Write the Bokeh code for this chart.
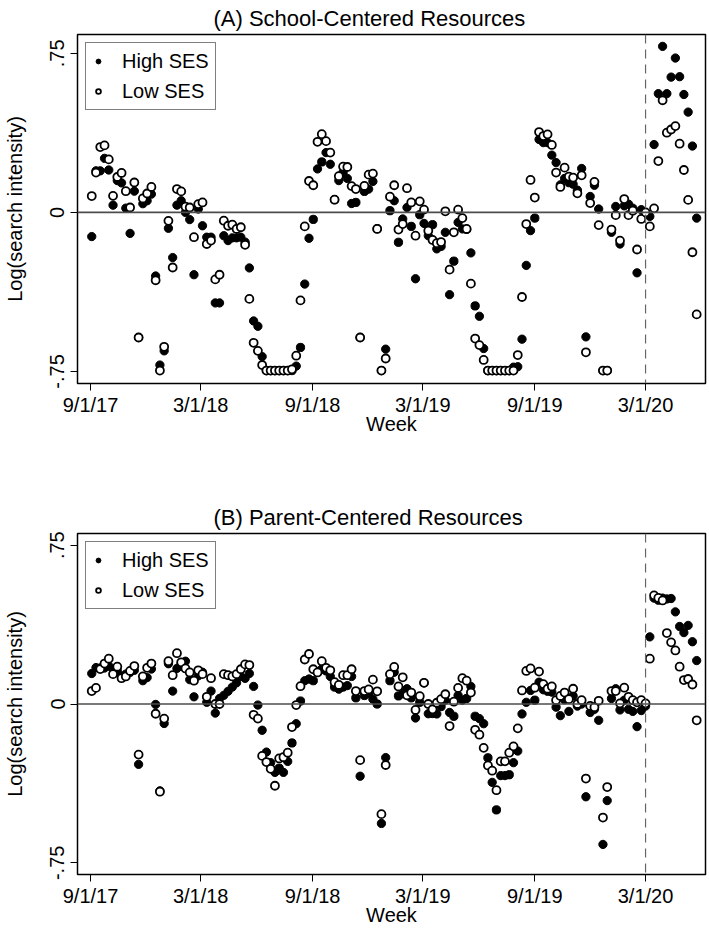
import pandas as pd
from bokeh.plotting import figure
from bokeh.models import Range1d, FixedTicker, Span, Legend, LegendItem
from bokeh.layouts import column
from bokeh.embed import file_html
from bokeh.resources import INLINE

FONT = "Liberation Sans"

# Weekly observations (week starting dates)
weeks = pd.date_range("2017-09-03", periods=143, freq="7D")
origin = pd.Timestamp("2017-09-01")
tick_dates = ["2017-09-01", "2018-03-01", "2018-09-01", "2019-03-01", "2019-09-01", "2020-03-01"]
tick_labels = ["9/1/17", "3/1/18", "9/1/18", "3/1/19", "9/1/19", "3/1/20"]
covid_date = "2020-03-01"

# (A) School-Centered Resources
school_high = [
    -0.114, 0.196, 0.196, 0.255, 0.20, 0.034, 0.15, 0.139, 0.02, -0.099,
    0.10, -0.59, 0.041, 0.055, 0.086, -0.30, -0.72, -0.653, -0.075, -0.213,
    0.034, 0.055, 0.0, -0.034, -0.294, 0.016, -0.063, -0.117, -0.117, -0.427,
    -0.427, -0.11, -0.133, -0.12, -0.12, -0.117, -0.14, -0.262, -0.512, -0.537,
    -0.68, -0.746, -0.746, -0.746, -0.746, -0.746, -0.746, -0.746, -0.725, -0.637,
    -0.338, -0.122, -0.033, 0.205, 0.238, 0.282, 0.227, 0.06, 0.15, 0.188,
    0.160, 0.042, 0.047, -0.59, 0.099, 0.11, 0.146, -0.077, -0.746, -0.645,
    0.008, 0.055, -0.141, -0.031, 0.023, -0.066, -0.313, -0.011, -0.052, -0.110,
    -0.058, -0.172, -0.160, -0.094, -0.388, -0.230, -0.047, -0.078, -0.08, -0.191,
    -0.441, -0.49, -0.642, -0.746, -0.746, -0.746, -0.746, -0.746, -0.746, -0.73,
    -0.728, -0.598, -0.250, -0.086, -0.027, 0.344, 0.329, 0.329, 0.27, 0.235,
    0.13, 0.16, 0.14, 0.133, 0.105, 0.207, -0.587, 0.075, 0.128, 0.016,
    -0.746, -0.746, -0.094, 0.028, -0.149, 0.031, 0.039, 0.02, -0.285, 0.013,
    -0.01, -0.019, 0.32, 0.56, 0.783, 0.56, 0.638, 0.728, 0.64, 0.556,
    0.473, 0.313, -0.027,
]
school_low = [
    0.077, 0.188, 0.308, 0.316, 0.25, 0.078, 0.167, 0.186, 0.10, 0.023,
    0.141, -0.59, 0.066, 0.089, 0.12, -0.32, -0.746, -0.634, -0.04, -0.26,
    0.11, 0.099, 0.027, 0.023, -0.117, 0.039, 0.047, -0.149, -0.133, -0.316,
    -0.294, -0.039, -0.063, -0.058, -0.078, -0.07, -0.153, -0.408, -0.615, -0.653,
    -0.72, -0.746, -0.746, -0.746, -0.746, -0.746, -0.746, -0.74, -0.676, -0.415,
    -0.066, 0.148, 0.128, 0.333, 0.369, 0.336, 0.282, 0.06, 0.171, 0.216,
    0.214, 0.124, 0.11, -0.59, 0.125, 0.178, 0.183, -0.078, -0.746, -0.689,
    0.074, 0.128, -0.081, -0.055, 0.114, 0.047, -0.110, 0.052, 0.013, -0.086,
    -0.130, -0.145, -0.14, 0.005, -0.27, -0.094, 0.013, -0.027, -0.078, -0.336,
    -0.595, -0.626, -0.696, -0.746, -0.746, -0.746, -0.746, -0.746, -0.746, -0.746,
    -0.673, -0.399, -0.055, 0.153, 0.07, 0.379, 0.36, 0.368, 0.318, 0.188,
    0.12, 0.211, 0.169, 0.164, 0.09, 0.175, -0.66, 0.044, 0.144, -0.06,
    -0.746, -0.746, -0.081, -0.013, -0.133, 0.063, -0.013, 0.008, -0.175, -0.031,
    0.0, -0.066, 0.019, 0.242, 0.529, 0.376, 0.391, 0.407, 0.324, 0.2,
    0.059, -0.188, -0.481,
]

# (B) Parent-Centered Resources
parent_high = [
    0.144, 0.172, 0.17, 0.17, 0.179, 0.164, 0.156, 0.13, 0.141, 0.149,
    0.159, -0.285, 0.110, 0.125, 0.165, -0.002, -0.41, -0.092, 0.190, 0.061,
    0.168, 0.19, 0.202, 0.115, 0.034, 0.133, 0.15, 0.008, 0.061, -0.043,
    0.026, 0.041, 0.060, 0.080, 0.10, 0.130, 0.121, 0.144, 0.083, -0.005,
    -0.124, -0.227, -0.277, -0.323, -0.303, -0.323, -0.271, -0.184, -0.093, 0.014,
    0.11, 0.118, 0.110, 0.15, 0.164, 0.156, 0.13, 0.080, 0.07, 0.08,
    0.087, 0.13, 0.029, -0.341, 0.04, 0.05, 0.023, 0.0, -0.564, -0.253,
    0.110, 0.15, 0.038, 0.049, 0.072, 0.029, -0.066, 0.008, 0.10, -0.046,
    -0.045, -0.047, -0.012, 0.018, -0.04, -0.058, 0.041, 0.018, 0.026, 0.083,
    -0.058, -0.069, -0.093, -0.254, -0.37, -0.5, -0.338, -0.338, -0.334, -0.277,
    -0.222, -0.047, 0.008, 0.064, 0.018, 0.103, 0.067, 0.06, 0.056, -0.015,
    -0.055, 0.02, -0.035, 0.038, -0.01, 0.0, -0.438, -0.04, -0.025, -0.077,
    -0.663, -0.456, 0.026, 0.072, -0.028, 0.018, -0.025, -0.035, -0.107, -0.031,
    -0.01, 0.317, 0.5, 0.49, 0.5, 0.496, 0.498, 0.435, 0.366, 0.337,
    0.371, 0.294, 0.205,
]
parent_low = [
    0.061, 0.076, 0.165, 0.191, 0.214, 0.141, 0.176, 0.122, 0.130, 0.156,
    0.179, -0.239, 0.130, 0.171, 0.191, -0.046, -0.414, -0.069, 0.202, 0.136,
    0.240, 0.197, 0.168, 0.149, 0.110, 0.159, 0.141, 0.034, 0.122, 0.0,
    0.0, 0.141, 0.136, 0.130, 0.141, 0.164, 0.187, 0.184, -0.051, -0.069,
    -0.245, -0.274, -0.306, -0.386, -0.257, -0.251, -0.23, -0.109, -0.005, 0.084,
    0.210, 0.236, 0.164, 0.149, 0.202, 0.171, 0.159, 0.103, 0.090, 0.136,
    0.136, 0.164, 0.061, -0.265, 0.061, 0.069, 0.115, 0.06, -0.52, -0.288,
    0.141, 0.175, 0.083, 0.126, 0.041, 0.054, -0.028, 0.037, 0.1, 0.0,
    -0.025, 0.006, 0.023, 0.046, -0.104, 0.011, 0.076, 0.122, 0.110, 0.054,
    -0.122, -0.145, -0.207, -0.29, -0.315, -0.407, -0.271, -0.271, -0.23, -0.2,
    -0.115, 0.064, 0.156, 0.168, 0.077, 0.153, 0.094, 0.072, 0.083, 0.018,
    0.038, 0.054, 0.023, 0.072, 0.0, 0.018, -0.352, -0.009, -0.015, 0.015,
    -0.536, -0.392, 0.061, 0.061, 0.003, 0.077, 0.034, 0.018, 0.008, 0.018,
    0.003, 0.214, 0.513, 0.501, 0.489, 0.335, 0.291, 0.253, 0.176, 0.113,
    0.118, 0.092, -0.077,
]

y_ticks = [-0.75, 0, 0.75]
y_tick_labels = ["-.75", "0", ".75"]

x = [(w - origin).days for w in weeks]
x_ticks = [(pd.Timestamp(d) - origin).days for d in tick_dates]
covid_x = (pd.Timestamp(covid_date) - origin).days


def make_panel(title, high, low, y_lo, y_hi, height, border_top, border_bottom):
    p = figure(width=708, height=height,
               x_range=Range1d(-21.4, 1010.5), y_range=Range1d(y_lo, y_hi),
               output_backend="svg", toolbar_location=None,
               min_border_left=77, min_border_right=3,
               min_border_top=border_top, min_border_bottom=border_bottom)
    p.title.text = title
    p.title.align = "left"
    p.title.offset = 136
    p.title.text_font = FONT
    p.title.text_font_size = "22px"
    p.title.text_font_style = "normal"
    p.title.text_color = "black"
    p.title.standoff = 7
    p.grid.visible = False
    p.outline_line_color = "black"
    p.outline_line_width = 1.5
    p.outline_line_alpha = 1
    p.background_fill_color = "white"
    p.border_fill_color = "white"

    p.add_layout(Span(location=0, dimension="width", line_color="#4d4d4d", line_width=1.6))
    p.add_layout(Span(location=covid_x, dimension="height", line_color="#666666",
                      line_width=1.2, line_dash="9 6"))

    hr = p.scatter(x, high, marker="circle", size=8.3, fill_color="black", line_color="black")
    lr = p.scatter(x, low, marker="circle", size=8, fill_color="white",
                   line_color="black", line_width=1.8)

    legend = Legend(items=[LegendItem(label="High SES", renderers=[hr]),
                           LegendItem(label="Low SES", renderers=[lr])],
                    location="top_left")
    legend.border_line_color = "black"
    legend.border_line_width = 1
    legend.background_fill_color = "white"
    legend.background_fill_alpha = 1
    legend.label_text_font = FONT
    legend.label_text_font_size = "20px"
    legend.label_text_color = "black"
    legend.glyph_width = 12
    legend.glyph_height = 24
    legend.spacing = 6
    legend.padding = 6
    legend.margin = 8
    legend.label_standoff = 18
    p.add_layout(legend)

    for ax in (p.xaxis, p.yaxis):
        ax.axis_line_color = None
        ax.major_tick_in = 0
        ax.major_tick_out = 7
        ax.major_tick_line_color = "black"
        ax.major_tick_line_width = 1
        ax.minor_tick_line_color = None
        ax.major_label_text_font = FONT
        ax.major_label_text_font_size = "20px"
        ax.major_label_text_color = "black"
        ax.axis_label_text_font = FONT
        ax.axis_label_text_font_size = "20px"
        ax.axis_label_text_font_style = "normal"
        ax.axis_label_text_color = "black"

    p.xaxis.ticker = FixedTicker(ticks=x_ticks)
    p.xaxis.major_label_overrides = dict(zip(x_ticks, tick_labels))
    p.xaxis.major_label_standoff = 3
    p.xaxis.axis_label = "Week"
    p.xaxis.axis_label_standoff = -6

    p.yaxis.ticker = FixedTicker(ticks=y_ticks)
    p.yaxis.major_label_overrides = dict(zip(y_ticks, y_tick_labels))
    p.yaxis.major_label_orientation = "vertical"
    p.yaxis.major_label_standoff = 6
    p.yaxis.axis_label = "Log(search intensity)"
    p.yaxis.axis_label_standoff = 22
    return p


pA = make_panel("(A) School-Centered Resources", school_high, school_low,
                -0.807, 0.839, 499, 33, 116)
pB = make_panel("(B) Parent-Centered Resources", parent_high, parent_low,
                -0.805, 0.805, 431, 25, 56)

layout = column(pA, pB)
open("out.html", "w").write(file_html(layout, INLINE))
